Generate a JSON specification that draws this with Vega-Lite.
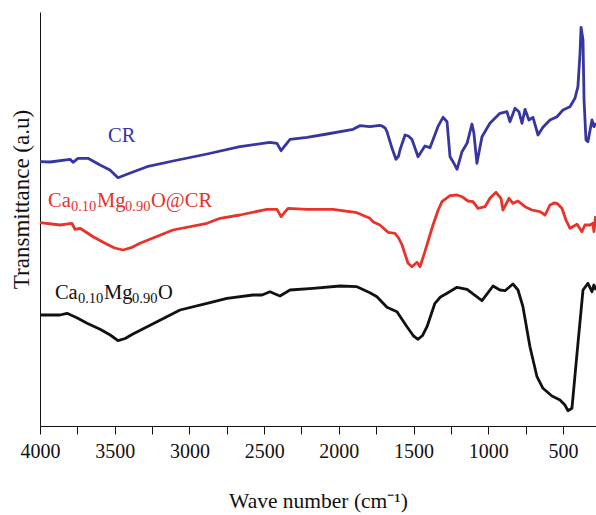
{
  "$schema": "https://vega.github.io/schema/vega-lite/v6.json",
  "width": 556,
  "height": 414,
  "autosize": "none",
  "padding": {"left": 40, "top": 12, "right": 0, "bottom": 89},
  "background": "white",
  "config": {"view": {"stroke": null}, "font": "Liberation Serif"},
  "datasets": {
    "spectra": [
      {"series": "CR", "wn": 4000, "t": 264.3}, {"series": "CR", "wn": 3933, "t": 264}, {"series": "CR", "wn": 3799, "t": 266.7}, {"series": "CR", "wn": 3779, "t": 263.7}, {"series": "CR", "wn": 3746, "t": 267.7}, {"series": "CR", "wn": 3679, "t": 267.7}, {"series": "CR", "wn": 3598, "t": 261}, {"series": "CR", "wn": 3532, "t": 256}, {"series": "CR", "wn": 3478, "t": 248.3}, {"series": "CR", "wn": 3418, "t": 251.7}, {"series": "CR", "wn": 3284, "t": 259.3}, {"series": "CR", "wn": 3110, "t": 265}, {"series": "CR", "wn": 2882, "t": 272}, {"series": "CR", "wn": 2662, "t": 279.3}, {"series": "CR", "wn": 2461, "t": 283.7}, {"series": "CR", "wn": 2414, "t": 282.7}, {"series": "CR", "wn": 2387, "t": 275.3}, {"series": "CR", "wn": 2327, "t": 286.7}, {"series": "CR", "wn": 2213, "t": 288.7}, {"series": "CR", "wn": 2079, "t": 292}, {"series": "CR", "wn": 1905, "t": 296.7}, {"series": "CR", "wn": 1859, "t": 300.3}, {"series": "CR", "wn": 1792, "t": 299.3}, {"series": "CR", "wn": 1725, "t": 300.7}, {"series": "CR", "wn": 1711, "t": 300}, {"series": "CR", "wn": 1690, "t": 298}, {"series": "CR", "wn": 1678, "t": 294.3}, {"series": "CR", "wn": 1644, "t": 277.7}, {"series": "CR", "wn": 1618, "t": 266.7}, {"series": "CR", "wn": 1600, "t": 270}, {"series": "CR", "wn": 1591, "t": 276}, {"series": "CR", "wn": 1557, "t": 291}, {"series": "CR", "wn": 1535, "t": 290}, {"series": "CR", "wn": 1511, "t": 286.7}, {"series": "CR", "wn": 1470, "t": 269.3}, {"series": "CR", "wn": 1424, "t": 280}, {"series": "CR", "wn": 1390, "t": 278.3}, {"series": "CR", "wn": 1337, "t": 299.3}, {"series": "CR", "wn": 1303, "t": 308.7}, {"series": "CR", "wn": 1276, "t": 304.3}, {"series": "CR", "wn": 1256, "t": 269.3}, {"series": "CR", "wn": 1236, "t": 264.3}, {"series": "CR", "wn": 1209, "t": 256.7}, {"series": "CR", "wn": 1176, "t": 274.3}, {"series": "CR", "wn": 1142, "t": 282.7}, {"series": "CR", "wn": 1109, "t": 302}, {"series": "CR", "wn": 1096, "t": 292.7}, {"series": "CR", "wn": 1076, "t": 262.7}, {"series": "CR", "wn": 1042, "t": 289.3}, {"series": "CR", "wn": 989, "t": 302.7}, {"series": "CR", "wn": 922, "t": 312.7}, {"series": "CR", "wn": 875, "t": 314.3}, {"series": "CR", "wn": 855, "t": 304.3}, {"series": "CR", "wn": 821, "t": 317.7}, {"series": "CR", "wn": 795, "t": 314.3}, {"series": "CR", "wn": 774, "t": 302.7}, {"series": "CR", "wn": 754, "t": 316.7}, {"series": "CR", "wn": 728, "t": 306}, {"series": "CR", "wn": 701, "t": 308.7}, {"series": "CR", "wn": 667, "t": 291}, {"series": "CR", "wn": 634, "t": 298.7}, {"series": "CR", "wn": 587, "t": 306}, {"series": "CR", "wn": 540, "t": 309.3}, {"series": "CR", "wn": 500, "t": 316}, {"series": "CR", "wn": 453, "t": 319.3}, {"series": "CR", "wn": 420, "t": 327.7}, {"series": "CR", "wn": 400, "t": 339.3}, {"series": "CR", "wn": 386, "t": 372.7}, {"series": "CR", "wn": 379, "t": 398.7}, {"series": "CR", "wn": 366, "t": 386}, {"series": "CR", "wn": 359, "t": 326}, {"series": "CR", "wn": 346, "t": 286}, {"series": "CR", "wn": 333, "t": 284.3}, {"series": "CR", "wn": 306, "t": 306}, {"series": "CR", "wn": 293, "t": 299.3}, {"series": "CR", "wn": 279, "t": 303},
      {"series": "CaMgO@CR", "wn": 4000, "t": 203.3}, {"series": "CaMgO@CR", "wn": 3866, "t": 201}, {"series": "CaMgO@CR", "wn": 3786, "t": 202.7}, {"series": "CaMgO@CR", "wn": 3766, "t": 196.7}, {"series": "CaMgO@CR", "wn": 3732, "t": 197.7}, {"series": "CaMgO@CR", "wn": 3645, "t": 189.3}, {"series": "CaMgO@CR", "wn": 3552, "t": 181.7}, {"series": "CaMgO@CR", "wn": 3500, "t": 178}, {"series": "CaMgO@CR", "wn": 3445, "t": 176}, {"series": "CaMgO@CR", "wn": 3390, "t": 178.3}, {"series": "CaMgO@CR", "wn": 3331, "t": 182.7}, {"series": "CaMgO@CR", "wn": 3110, "t": 196}, {"series": "CaMgO@CR", "wn": 2882, "t": 202.7}, {"series": "CaMgO@CR", "wn": 2795, "t": 207.7}, {"series": "CaMgO@CR", "wn": 2662, "t": 211}, {"series": "CaMgO@CR", "wn": 2481, "t": 216.7}, {"series": "CaMgO@CR", "wn": 2414, "t": 216.7}, {"series": "CaMgO@CR", "wn": 2387, "t": 209.3}, {"series": "CaMgO@CR", "wn": 2340, "t": 217.7}, {"series": "CaMgO@CR", "wn": 2213, "t": 216.7}, {"series": "CaMgO@CR", "wn": 2039, "t": 216.7}, {"series": "CaMgO@CR", "wn": 1879, "t": 213.3}, {"series": "CaMgO@CR", "wn": 1792, "t": 207.7}, {"series": "CaMgO@CR", "wn": 1772, "t": 204.3}, {"series": "CaMgO@CR", "wn": 1725, "t": 201}, {"series": "CaMgO@CR", "wn": 1671, "t": 193.7}, {"series": "CaMgO@CR", "wn": 1624, "t": 192.7}, {"series": "CaMgO@CR", "wn": 1600, "t": 188}, {"series": "CaMgO@CR", "wn": 1577, "t": 181}, {"series": "CaMgO@CR", "wn": 1537, "t": 162.7}, {"series": "CaMgO@CR", "wn": 1511, "t": 159.3}, {"series": "CaMgO@CR", "wn": 1477, "t": 163.7}, {"series": "CaMgO@CR", "wn": 1457, "t": 159.3}, {"series": "CaMgO@CR", "wn": 1424, "t": 174.3}, {"series": "CaMgO@CR", "wn": 1370, "t": 201}, {"series": "CaMgO@CR", "wn": 1335, "t": 216}, {"series": "CaMgO@CR", "wn": 1310, "t": 224.3}, {"series": "CaMgO@CR", "wn": 1256, "t": 230.3}, {"series": "CaMgO@CR", "wn": 1209, "t": 231}, {"series": "CaMgO@CR", "wn": 1176, "t": 229.3}, {"series": "CaMgO@CR", "wn": 1136, "t": 225}, {"series": "CaMgO@CR", "wn": 1102, "t": 224.3}, {"series": "CaMgO@CR", "wn": 1069, "t": 217.7}, {"series": "CaMgO@CR", "wn": 1022, "t": 219.3}, {"series": "CaMgO@CR", "wn": 989, "t": 227.7}, {"series": "CaMgO@CR", "wn": 948, "t": 233.7}, {"series": "CaMgO@CR", "wn": 915, "t": 227.7}, {"series": "CaMgO@CR", "wn": 902, "t": 216}, {"series": "CaMgO@CR", "wn": 861, "t": 227.7}, {"series": "CaMgO@CR", "wn": 835, "t": 222.7}, {"series": "CaMgO@CR", "wn": 801, "t": 225}, {"series": "CaMgO@CR", "wn": 754, "t": 219.3}, {"series": "CaMgO@CR", "wn": 708, "t": 216}, {"series": "CaMgO@CR", "wn": 654, "t": 214.3}, {"series": "CaMgO@CR", "wn": 620, "t": 211}, {"series": "CaMgO@CR", "wn": 600, "t": 217}, {"series": "CaMgO@CR", "wn": 587, "t": 221}, {"series": "CaMgO@CR", "wn": 560, "t": 223}, {"series": "CaMgO@CR", "wn": 540, "t": 222.7}, {"series": "CaMgO@CR", "wn": 507, "t": 217.7}, {"series": "CaMgO@CR", "wn": 480, "t": 206}, {"series": "CaMgO@CR", "wn": 453, "t": 197.7}, {"series": "CaMgO@CR", "wn": 406, "t": 201.7}, {"series": "CaMgO@CR", "wn": 373, "t": 194.3}, {"series": "CaMgO@CR", "wn": 353, "t": 201}, {"series": "CaMgO@CR", "wn": 319, "t": 201}, {"series": "CaMgO@CR", "wn": 299, "t": 202.7}, {"series": "CaMgO@CR", "wn": 293, "t": 194.3}, {"series": "CaMgO@CR", "wn": 281, "t": 210},
      {"series": "CaMgO", "wn": 4000, "t": 111}, {"series": "CaMgO", "wn": 3866, "t": 111}, {"series": "CaMgO", "wn": 3819, "t": 112.7}, {"series": "CaMgO", "wn": 3750, "t": 108}, {"series": "CaMgO", "wn": 3685, "t": 102.7}, {"series": "CaMgO", "wn": 3598, "t": 96.7}, {"series": "CaMgO", "wn": 3530, "t": 91}, {"series": "CaMgO", "wn": 3478, "t": 85.3}, {"series": "CaMgO", "wn": 3430, "t": 87.5}, {"series": "CaMgO", "wn": 3378, "t": 92}, {"series": "CaMgO", "wn": 3217, "t": 104.3}, {"series": "CaMgO", "wn": 3063, "t": 116}, {"series": "CaMgO", "wn": 2882, "t": 122.7}, {"series": "CaMgO", "wn": 2749, "t": 127.7}, {"series": "CaMgO", "wn": 2575, "t": 131}, {"series": "CaMgO", "wn": 2514, "t": 131}, {"series": "CaMgO", "wn": 2461, "t": 134.3}, {"series": "CaMgO", "wn": 2394, "t": 130}, {"series": "CaMgO", "wn": 2327, "t": 136}, {"series": "CaMgO", "wn": 2173, "t": 137.7}, {"series": "CaMgO", "wn": 1992, "t": 140}, {"series": "CaMgO", "wn": 1879, "t": 139.3}, {"series": "CaMgO", "wn": 1792, "t": 133.3}, {"series": "CaMgO", "wn": 1745, "t": 129.3}, {"series": "CaMgO", "wn": 1678, "t": 118.7}, {"series": "CaMgO", "wn": 1611, "t": 114.3}, {"series": "CaMgO", "wn": 1544, "t": 99.3}, {"series": "CaMgO", "wn": 1500, "t": 90}, {"series": "CaMgO", "wn": 1470, "t": 86.7}, {"series": "CaMgO", "wn": 1440, "t": 90.5}, {"series": "CaMgO", "wn": 1410, "t": 99.3}, {"series": "CaMgO", "wn": 1357, "t": 122.7}, {"series": "CaMgO", "wn": 1320, "t": 129}, {"series": "CaMgO", "wn": 1276, "t": 132.7}, {"series": "CaMgO", "wn": 1209, "t": 138.7}, {"series": "CaMgO", "wn": 1142, "t": 136.7}, {"series": "CaMgO", "wn": 1042, "t": 125.3}, {"series": "CaMgO", "wn": 968, "t": 140}, {"series": "CaMgO", "wn": 922, "t": 136}, {"series": "CaMgO", "wn": 888, "t": 135.3}, {"series": "CaMgO", "wn": 835, "t": 142}, {"series": "CaMgO", "wn": 801, "t": 136}, {"series": "CaMgO", "wn": 768, "t": 119.3}, {"series": "CaMgO", "wn": 721, "t": 79.3}, {"series": "CaMgO", "wn": 674, "t": 49.3}, {"series": "CaMgO", "wn": 634, "t": 37.7}, {"series": "CaMgO", "wn": 574, "t": 30}, {"series": "CaMgO", "wn": 520, "t": 26}, {"series": "CaMgO", "wn": 487, "t": 21}, {"series": "CaMgO", "wn": 467, "t": 15.3}, {"series": "CaMgO", "wn": 440, "t": 17.7}, {"series": "CaMgO", "wn": 406, "t": 72.7}, {"series": "CaMgO", "wn": 366, "t": 136}, {"series": "CaMgO", "wn": 333, "t": 142.7}, {"series": "CaMgO", "wn": 306, "t": 134.3}, {"series": "CaMgO", "wn": 293, "t": 141}, {"series": "CaMgO", "wn": 279, "t": 136}
    ],
    "labels": [
      {"series": "CR", "kind": "main", "wn": 3545, "t": 284.3, "text": "CR"},
      {"series": "CaMgO@CR", "kind": "main", "wn": 3946, "t": 218.7, "text": "Ca"},
      {"series": "CaMgO@CR", "kind": "sub", "wn": 3793, "t": 218.7, "text": "0.10"},
      {"series": "CaMgO@CR", "kind": "main", "wn": 3619, "t": 218.7, "text": "Mg"},
      {"series": "CaMgO@CR", "kind": "sub", "wn": 3431, "t": 218.7, "text": "0.90"},
      {"series": "CaMgO@CR", "kind": "main", "wn": 3257, "t": 218.7, "text": "O@CR"},
      {"series": "CaMgO", "kind": "main", "wn": 3900, "t": 126.7, "text": "Ca"},
      {"series": "CaMgO", "kind": "sub", "wn": 3746, "t": 126.7, "text": "0.10"},
      {"series": "CaMgO", "kind": "main", "wn": 3572, "t": 126.7, "text": "Mg"},
      {"series": "CaMgO", "kind": "sub", "wn": 3384, "t": 126.7, "text": "0.90"},
      {"series": "CaMgO", "kind": "main", "wn": 3210, "t": 126.7, "text": "O"}
    ]
  },
  "encoding": {
    "x": {
      "field": "wn", "type": "quantitative",
      "scale": {"domain": [4000, 279], "nice": false, "zero": false},
      "axis": {
        "values": [4000, 3750, 3500, 3250, 3000, 2750, 2500, 2250, 2000, 1750, 1500, 1250, 1000, 750, 500],
        "labelExpr": "datum.value % 500 === 0 ? datum.label : ''",
        "format": "d", "grid": false, "tickSize": 8, "tickColor": "#111", "domainColor": "#111",
        "labelFont": "Liberation Serif", "labelFontSize": 20, "labelColor": "#111", "labelPadding": 7, "labelFlush": false,
        "title": "Wave number (cm⁻¹)", "titleFont": "Liberation Serif", "titleFontSize": 21.5, "titleFontWeight": "normal", "titleColor": "#111", "titlePadding": 29
      }
    },
    "y": {
      "field": "t", "type": "quantitative",
      "scale": {"domain": [0, 414], "nice": false, "zero": false},
      "axis": {
        "ticks": false, "labels": false, "grid": false, "domainColor": "#111",
        "title": "Transmittance (a.u)", "titleFont": "Liberation Serif", "titleFontSize": 23, "titleFontWeight": "normal", "titleColor": "#111",
        "titleX": -12, "titleY": 187, "titleBaseline": "alphabetic", "titleAngle": -90
      }
    }
  },
  "layer": [
    {
      "mark": {"type": "rule", "color": "#111", "strokeWidth": 1},
      "encoding": {"y": {"datum": 414}, "x": null}
    },
    {
      "data": {"name": "spectra"},
      "mark": {"type": "line", "strokeWidth": 2.8, "clip": true, "strokeJoin": "round"},
      "encoding": {
        "color": {"field": "series", "type": "nominal", "legend": null,
          "scale": {"domain": ["CR", "CaMgO@CR", "CaMgO"], "range": ["#3636a0", "#e8322a", "#111111"]}}
      }
    },
    {
      "data": {"name": "labels"},
      "transform": [{"filter": "datum.kind === 'main'"}],
      "mark": {"type": "text", "align": "left", "baseline": "alphabetic", "font": "Liberation Serif", "fontSize": 20.5},
      "encoding": {
        "text": {"field": "text"},
        "color": {"field": "series", "type": "nominal", "legend": null}
      }
    },
    {
      "data": {"name": "labels"},
      "transform": [{"filter": "datum.kind === 'sub'"}],
      "mark": {"type": "text", "align": "left", "baseline": "alphabetic", "font": "Liberation Serif", "fontSize": 14.5, "dy": 4},
      "encoding": {
        "text": {"field": "text"},
        "color": {"field": "series", "type": "nominal", "legend": null}
      }
    }
  ]
}
